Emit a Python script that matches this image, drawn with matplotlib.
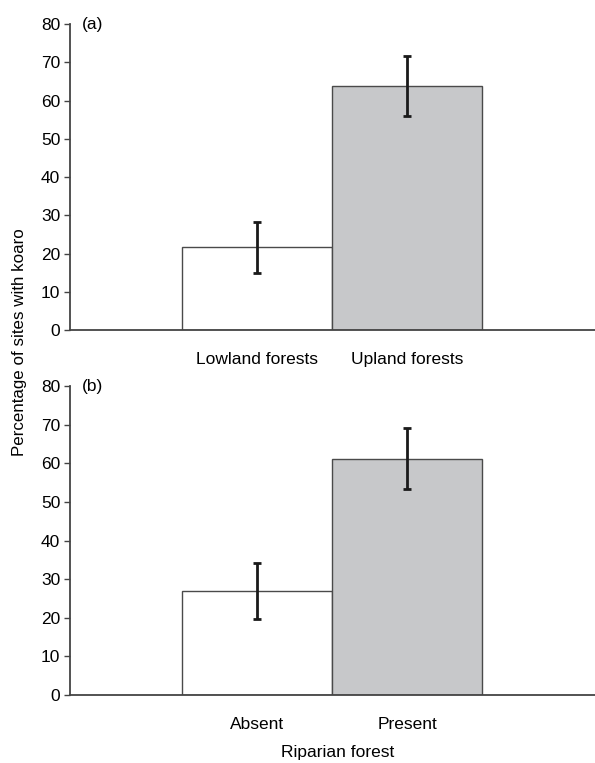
import matplotlib.pyplot as plt
import numpy as np

plt.rcParams['font.family'] = ['Liberation Sans', 'DejaVu Sans']

# panel (a)
cats_a = ['Lowland forests', 'Upland forests']
vals_a = [21.6, 63.8]
err_a = [6.6, 7.8]
# panel (b)
cats_b = ['Absent', 'Present']
vals_b = [27.0, 61.2]
err_b = [7.3, 7.9]

colors = ['white', '#c7c8ca']
yticks = [0, 10, 20, 30, 40, 50, 60, 70, 80]

fig = plt.figure(figsize=(5.95, 7.63), dpi=100)
ax1 = fig.add_axes([0.1176, 0.5675, 0.8824, 0.401])
ax2 = fig.add_axes([0.1176, 0.0891, 0.8824, 0.405])


def draw(ax, cats, vals, errs, tag):
    x = np.arange(len(cats))
    ax.bar(x, vals, width=1.0, color=colors, edgecolor='#4a4a4a', linewidth=1.0)
    ax.errorbar(x, vals, yerr=errs, fmt='none', ecolor='#1a1a1a',
                elinewidth=2.0, capsize=3, capthick=2.0)
    ax.set_xlim(-1.25, 2.25)
    ax.set_ylim(0, 80)
    ax.set_yticks(yticks)
    ax.set_xticks(x)
    ax.set_xticklabels(cats)
    ax.tick_params(axis='x', length=0, pad=16, labelsize=12.5)
    ax.tick_params(axis='y', length=4, width=1, direction='out', pad=3,
                   labelsize=12.5, color='#444444')
    for s in ['top', 'right']:
        ax.spines[s].set_visible(False)
    for s in ['left', 'bottom']:
        ax.spines[s].set_color('#444444')
        ax.spines[s].set_linewidth(1.3)
    ax.text(0.022, 1.0, tag, transform=ax.transAxes, fontsize=12.5,
            ha='left', va='center')


draw(ax1, cats_a, vals_a, err_a, '(a)')
draw(ax2, cats_b, vals_b, err_b, '(b)')

ax2.set_xlabel('Riparian forest', fontsize=12.5)
ax2.xaxis.set_label_coords(0.51, -0.163)
fig.text(0.032, 0.552, 'Percentage of sites with koaro', rotation=90,
         fontsize=12.2, ha='center', va='center')

plt.savefig('out.png', dpi=100)
plt.close()
